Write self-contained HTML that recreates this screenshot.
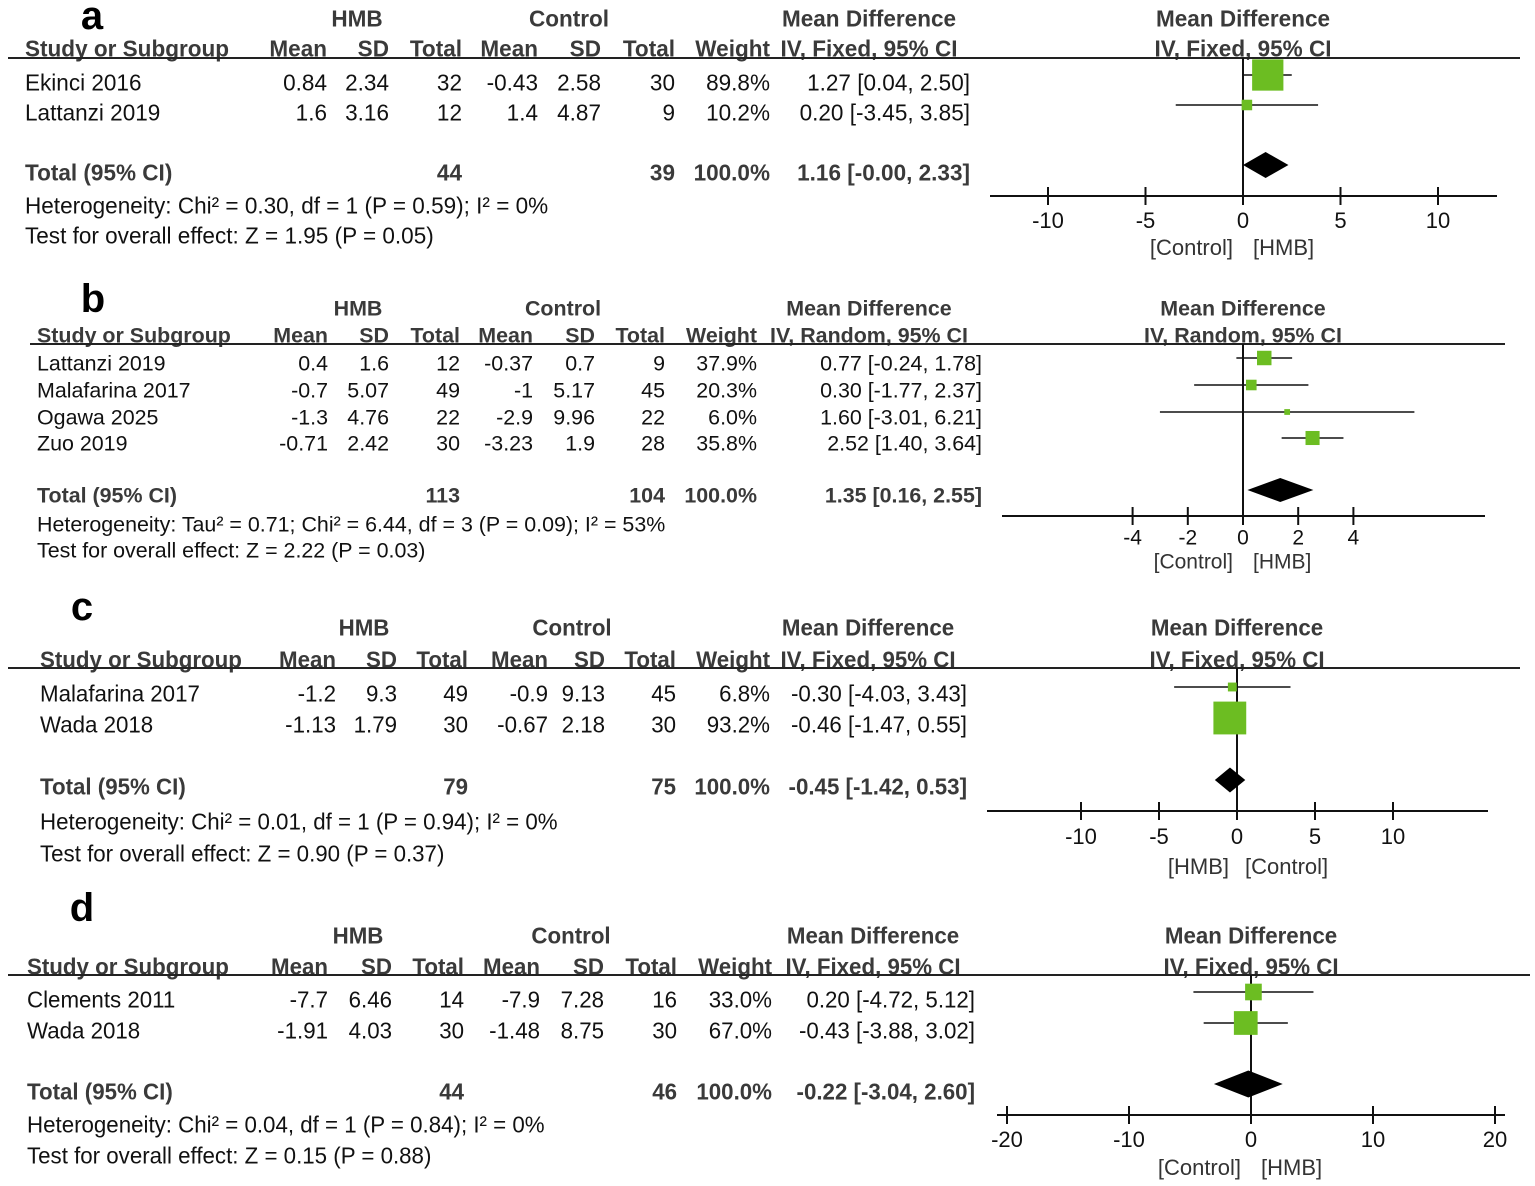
<!DOCTYPE html>
<html><head><meta charset="utf-8"><title>Forest plots HMB vs Control</title>
<style>
html,body{margin:0;padding:0;background:#fff;}
svg{display:block;font-family:"Liberation Sans",Arial,sans-serif;}
</style></head>
<body>
<svg id="fig" width="1535" height="1186" viewBox="0 0 1535 1186" xmlns="http://www.w3.org/2000/svg"></svg>
<script>
// ---------- Panel a data ----------
const aStudies=["Ekinci 2016","Lattanzi 2019"];
const aHmbMean=["0.84","1.6"], aHmbSD=["2.34","3.16"], aHmbN=["32","12"];
const aCtlMean=["-0.43","1.4"], aCtlSD=["2.58","4.87"], aCtlN=["30","9"];
const aWeight=[89.8,10.2];
const aMD=[1.27,0.20], aLo=[0.04,-3.45], aHi=[2.50,3.85];
const aTotal=[1.16,-0.00,2.33];
const aTotN=["44","39"];
const aTicks=[-10,-5,0,5,10];
const aText=["Heterogeneity: Chi² = 0.30, df = 1 (P = 0.59); I² = 0%","Test for overall effect: Z = 1.95 (P = 0.05)"];
// ---------- Panel b data ----------
const bStudies=["Lattanzi 2019","Malafarina 2017","Ogawa 2025","Zuo 2019"];
const bHmbMean=["0.4","-0.7","-1.3","-0.71"], bHmbSD=["1.6","5.07","4.76","2.42"], bHmbN=["12","49","22","30"];
const bCtlMean=["-0.37","-1","-2.9","-3.23"], bCtlSD=["0.7","5.17","9.96","1.9"], bCtlN=["9","45","22","28"];
const bWeight=[37.9,20.3,6.0,35.8];
const bMD=[0.77,0.30,1.60,2.52], bLo=[-0.24,-1.77,-3.01,1.40], bHi=[1.78,2.37,6.21,3.64];
const bTotal=[1.35,0.16,2.55];
const bTotN=["113","104"];
const bTicks=[-4,-2,0,2,4];
const bText=["Heterogeneity: Tau² = 0.71; Chi² = 6.44, df = 3 (P = 0.09); I² = 53%","Test for overall effect: Z = 2.22 (P = 0.03)"];
// ---------- Panel c data ----------
const cStudies=["Malafarina 2017","Wada 2018"];
const cHmbMean=["-1.2","-1.13"], cHmbSD=["9.3","1.79"], cHmbN=["49","30"];
const cCtlMean=["-0.9","-0.67"], cCtlSD=["9.13","2.18"], cCtlN=["45","30"];
const cWeight=[6.8,93.2];
const cMD=[-0.30,-0.46], cLo=[-4.03,-1.47], cHi=[3.43,0.55];
const cTotal=[-0.45,-1.42,0.53];
const cTotN=["79","75"];
const cTicks=[-10,-5,0,5,10];
const cText=["Heterogeneity: Chi² = 0.01, df = 1 (P = 0.94); I² = 0%","Test for overall effect: Z = 0.90 (P = 0.37)"];
// ---------- Panel d data ----------
const dStudies=["Clements 2011","Wada 2018"];
const dHmbMean=["-7.7","-1.91"], dHmbSD=["6.46","4.03"], dHmbN=["14","30"];
const dCtlMean=["-7.9","-1.48"], dCtlSD=["7.28","8.75"], dCtlN=["16","30"];
const dWeight=[33.0,67.0];
const dMD=[0.20,-0.43], dLo=[-4.72,-3.88], dHi=[5.12,3.02];
const dTotal=[-0.22,-3.04,2.60];
const dTotN=["44","46"];
const dTicks=[-20,-10,0,10,20];
const dText=["Heterogeneity: Chi² = 0.04, df = 1 (P = 0.84); I² = 0%","Test for overall effect: Z = 0.15 (P = 0.88)"];

const NS="http://www.w3.org/2000/svg";
const svg=document.getElementById('fig');
function mk(tag,attrs,parent){const e=document.createElementNS(NS,tag);for(const k in attrs)e.setAttribute(k,attrs[k]);(parent||svg).appendChild(e);return e;}
function txt(g,s,x,y,opt){
  const sx=opt.sx||1;
  const e=mk('text',{transform:`translate(${x},${y}) scale(${sx},1)`,'font-size':opt.fs,'text-anchor':opt.anchor||'start',fill:opt.fill||'#111','font-weight':opt.bold?'bold':'normal'},g);
  e.textContent=s;
  
  
  return e;
}
function fmt(v){return (Object.is(v,-0)?'-':'')+v.toFixed(2);}

function panel(P){
  const g=mk('g',{});
  
  
  const fs=P.fs, sx=P.sx, hc='#3a3a3a';
  const off=fs*0.36, dy=P.dy;
  txt(g,P.letter,P.letterX,P.letterY,{fs:40,bold:true,anchor:'middle',fill:'#000',name:'panel-letter-'+P.letter});
  txt(g,'HMB',P.hmbX,P.h1+off,{fs:fs,sx:sx,bold:true,anchor:'middle',fill:hc,name:'hmb-group-header'});
  txt(g,'Control',P.ctlX,P.h1+off,{fs:fs,sx:sx,bold:true,anchor:'middle',fill:hc,name:'control-group-header'});
  txt(g,'Mean Difference',P.mdX,P.h1+off,{fs:fs,sx:sx,bold:true,anchor:'middle',fill:hc,name:'md-column-header'});
  txt(g,'Mean Difference',P.x0,P.h1+off,{fs:fs,sx:sx,bold:true,anchor:'middle',fill:hc,name:'forest-header'});
  txt(g,'Study or Subgroup',P.left,P.h2+off,{fs:fs,sx:sx,bold:true,fill:hc,name:'study-column-header'});
  const cols=P.cols;
  const hn=['Mean','SD','Total','Mean','SD','Total','Weight'];
  hn.forEach((h,i)=>txt(g,h,cols[i],P.h2+off,{fs:fs,sx:sx,bold:true,anchor:'end',fill:hc,name:'column-header-'+h.toLowerCase()}));
  txt(g,P.method,P.mdX,P.h2+off,{fs:fs,sx:sx,bold:true,anchor:'middle',fill:hc,name:'method-header'});
  txt(g,P.method,P.x0,P.h2+off,{fs:fs,sx:sx,bold:true,anchor:'middle',fill:hc,name:'forest-method-header'});
  const hl=mk('line',{x1:P.lineL,x2:P.lineR,y1:P.hline,y2:P.hline,stroke:'#222','stroke-width':2},g);
  
  
  const X=v=>P.x0+v*P.scale;
  const zl=mk('line',{x1:X(0),x2:X(0),y1:P.hline,y2:P.axisY,stroke:'#111','stroke-width':2},g);
  
  
  P.studies.forEach((s,i)=>{
    const y=P.rows[i];
    txt(g,s,P.left,y+dy+off,{fs:fs,sx:sx,name:'study-name'});
    const vals=[P.hm[i],P.hs[i],P.hn[i],P.cm[i],P.cs[i],P.cn[i],P.w[i].toFixed(1)+'%'];
    vals.forEach((v,j)=>txt(g,v,cols[j],y+dy+off,{fs:fs,sx:sx,anchor:'end',name:'study-value'}));
    txt(g,fmt(P.md[i])+' ['+fmt(P.lo[i])+', '+fmt(P.hi[i])+']',P.ciX,y+dy+off,{fs:fs,sx:sx,anchor:'end',name:'study-ci'});
    const cl=mk('line',{x1:X(P.lo[i]),x2:X(P.hi[i]),y1:y,y2:y,stroke:'#111','stroke-width':1.6},g);
    
    
    const sz=P.k*Math.sqrt(P.w[i]);
    const r=mk('rect',{x:X(P.md[i])-sz/2,y:y-sz/2,width:sz,height:sz,fill:'#6cbd22'},g);
    
    
  });
  const ty=P.totY;
  txt(g,'Total (95% CI)',P.left,ty+dy+off,{fs:fs,sx:sx,bold:true,fill:hc,name:'total-label'});
  txt(g,P.totN[0],cols[2],ty+dy+off,{fs:fs,sx:sx,bold:true,anchor:'end',fill:hc,name:'total-hmb-n'});
  txt(g,P.totN[1],cols[5],ty+dy+off,{fs:fs,sx:sx,bold:true,anchor:'end',fill:hc,name:'total-control-n'});
  txt(g,'100.0%',cols[6],ty+dy+off,{fs:fs,sx:sx,bold:true,anchor:'end',fill:hc,name:'total-weight'});
  txt(g,fmt(P.tot[0])+' ['+fmt(P.tot[1])+', '+fmt(P.tot[2])+']',P.ciX,ty+dy+off,{fs:fs,sx:sx,bold:true,anchor:'end',fill:hc,name:'total-ci'});
  const h=P.dh/2;
  const d=mk('polygon',{points:`${X(P.tot[1])},${ty} ${X(P.tot[0])},${ty-h} ${X(P.tot[2])},${ty} ${X(P.tot[0])},${ty+h}`,fill:'#000'},g);
  
  
  txt(g,P.text[0],P.left,P.hetY+off,{fs:fs,sx:sx,name:'heterogeneity-text'});
  txt(g,P.text[1],P.left,P.testY+off,{fs:fs,sx:sx,name:'overall-effect-text'});
  const ax=mk('line',{x1:P.axL,x2:P.axR,y1:P.axisY,y2:P.axisY,stroke:'#111','stroke-width':2},g);
  
  
  P.ticks.forEach(t=>{
    const tl=mk('line',{x1:X(t),x2:X(t),y1:P.axisY-9,y2:P.axisY+9,stroke:'#111','stroke-width':2},g);
    
    
    txt(g,String(t),X(t),P.tickY+P.tfs*0.36,{fs:P.tfs,anchor:'middle',name:'x-tick-label'});
  });
  txt(g,P.favL,X(0)-P.favGap,P.favY+P.tfs*0.36,{fs:P.tfs,anchor:'end',fill:'#333',name:'favours-left-label'});
  txt(g,P.favR,X(0)+P.favGap,P.favY+P.tfs*0.36,{fs:P.tfs,anchor:'start',fill:'#333',name:'favours-right-label'});
}

panel({letter:'a',letterX:92,letterY:29,fs:23,sx:0.98,dy:7,left:25,
  hmbX:357,ctlX:569,mdX:869,h1:18,h2:48,hline:58,lineL:8,lineR:1520,
  cols:[327,389,462,538,601,675,770],ciX:970,method:'IV, Fixed, 95% CI',
  studies:aStudies,hm:aHmbMean,hs:aHmbSD,hn:aHmbN,cm:aCtlMean,cs:aCtlSD,cn:aCtlN,w:aWeight,
  md:aMD,lo:aLo,hi:aHi,tot:aTotal,totN:aTotN,ticks:aTicks,text:aText,
  rows:[75,105],totY:165,hetY:205,testY:235,x0:1243,scale:19.5,k:3.3,dh:26,
  axisY:196,axL:990,axR:1497,tickY:220,tfs:22,favY:247,favL:'[Control]',favR:'[HMB]',favGap:10});
panel({letter:'b',letterX:93,letterY:312,fs:21,sx:1.02,dy:5,left:37,
  hmbX:358,ctlX:563,mdX:869,h1:308,h2:335,hline:344,lineL:30,lineR:1505,
  cols:[328,389,460,533,595,665,757],ciX:982,method:'IV, Random, 95% CI',
  studies:bStudies,hm:bHmbMean,hs:bHmbSD,hn:bHmbN,cm:bCtlMean,cs:bCtlSD,cn:bCtlN,w:bWeight,
  md:bMD,lo:bLo,hi:bHi,tot:bTotal,totN:bTotN,ticks:bTicks,text:bText,
  rows:[358,385,412,438],totY:490,hetY:524,testY:550,x0:1243,scale:27.6,k:2.35,dh:24,
  axisY:516,axL:1002,axR:1485,tickY:537,tfs:21,favY:561,favL:'[Control]',favR:'[HMB]',favGap:10});
panel({letter:'c',letterX:82,letterY:620,fs:23,sx:0.97,dy:6,left:40,
  hmbX:364,ctlX:572,mdX:868,h1:627,h2:659,hline:668,lineL:8,lineR:1520,
  cols:[336,397,468,548,605,676,770],ciX:967,method:'IV, Fixed, 95% CI',
  studies:cStudies,hm:cHmbMean,hs:cHmbSD,hn:cHmbN,cm:cCtlMean,cs:cCtlSD,cn:cCtlN,w:cWeight,
  md:cMD,lo:cLo,hi:cHi,tot:cTotal,totN:cTotN,ticks:cTicks,text:cText,
  rows:[687,718],totY:780,hetY:821,testY:853,x0:1237,scale:15.6,k:3.4,dh:25,
  axisY:811,axL:987,axR:1488,tickY:836,tfs:22,favY:866,favL:'[HMB]',favR:'[Control]',favGap:8});
panel({letter:'d',letterX:82,letterY:921,fs:23,sx:0.97,dy:7,left:27,
  hmbX:358,ctlX:571,mdX:873,h1:935,h2:966,hline:975,lineL:8,lineR:1530,
  cols:[328,392,464,540,604,677,772],ciX:975,method:'IV, Fixed, 95% CI',
  studies:dStudies,hm:dHmbMean,hs:dHmbSD,hn:dHmbN,cm:dCtlMean,cs:dCtlSD,cn:dCtlN,w:dWeight,
  md:dMD,lo:dLo,hi:dHi,tot:dTotal,totN:dTotN,ticks:dTicks,text:dText,
  rows:[992,1023],totY:1084,hetY:1124,testY:1155,x0:1251,scale:12.2,k:2.9,dh:27,
  axisY:1115,axL:997,axR:1505,tickY:1139,tfs:22,favY:1167,favL:'[Control]',favR:'[HMB]',favGap:10});
</script>
</body></html>
